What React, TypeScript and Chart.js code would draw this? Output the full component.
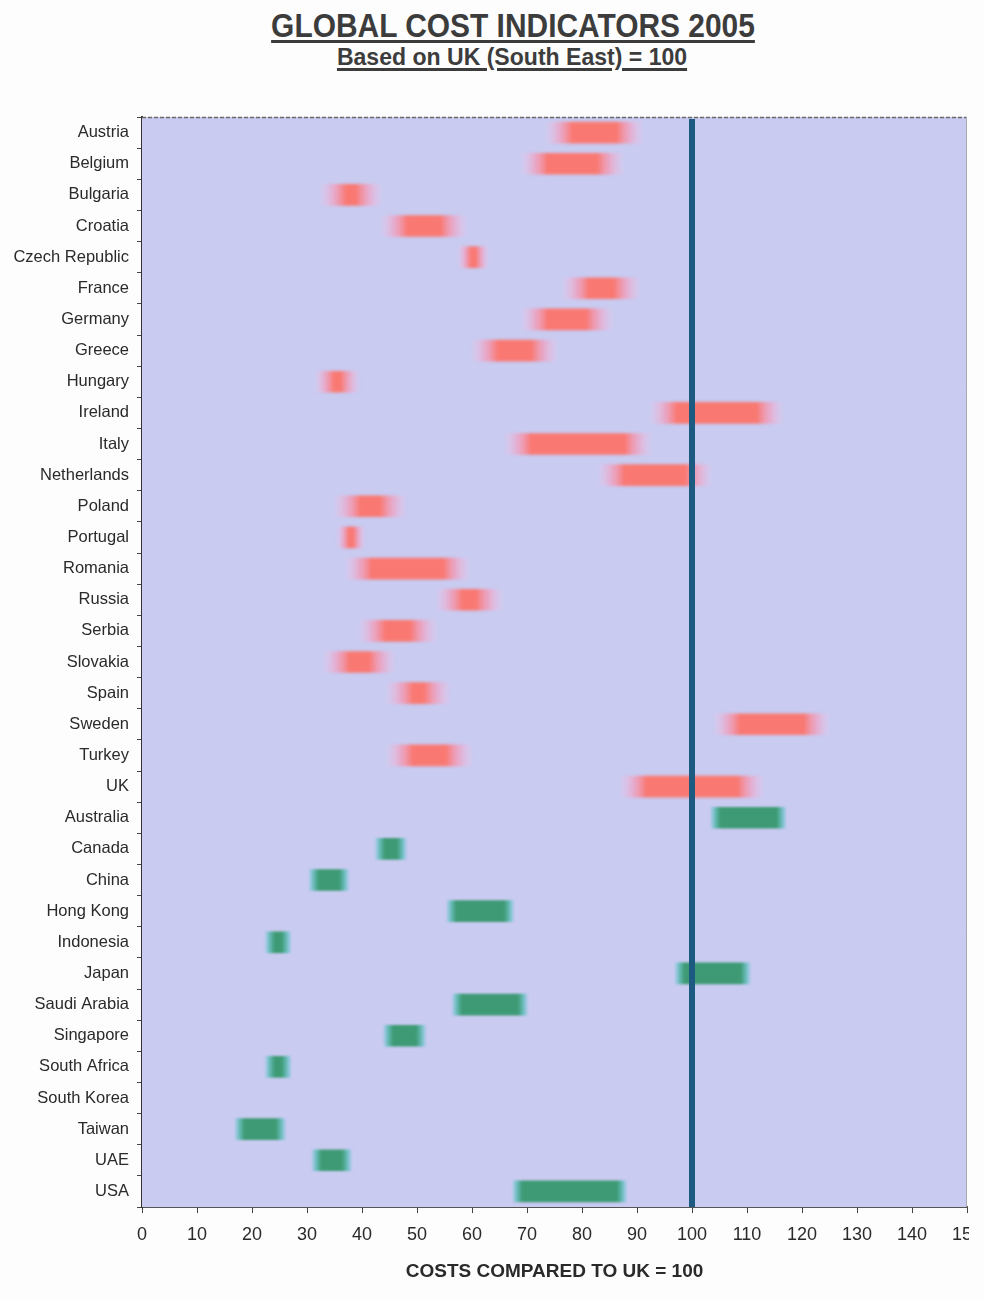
import React, { useEffect, useRef } from 'react';
import { Chart, registerables } from 'chart.js';

Chart.register(...registerables);

const europeCountries = [
  'Austria', 'Belgium', 'Bulgaria', 'Croatia', 'Czech Republic', 'France', 'Germany', 'Greece',
  'Hungary', 'Ireland', 'Italy', 'Netherlands', 'Poland', 'Portugal', 'Romania', 'Russia',
  'Serbia', 'Slovakia', 'Spain', 'Sweden', 'Turkey', 'UK',
];
const otherCountries = [
  'Australia', 'Canada', 'China', 'Hong Kong', 'Indonesia', 'Japan', 'Saudi Arabia',
  'Singapore', 'South Africa', 'South Korea', 'Taiwan', 'UAE', 'USA',
];
const countries = [...europeCountries, ...otherCountries];

// low / high cost index (UK South East = 100)
const lowCost: (number | null)[] = [
  73.5, 69, 32.5, 43.5, 57.5, 76.5, 69, 60,
  31.5, 92.5, 66, 83, 35, 35.5, 37, 53.5,
  39.5, 33, 44.5, 104, 44.5, 87,
  103.5, 42.5, 30.5, 55.5, 22.5, 97, 56.5,
  44, 22.5, null, 17, 31, 67.5,
];
const highCost: (number | null)[] = [
  91, 87.5, 43.5, 59, 63, 90.5, 85.5, 75.5,
  39.5, 116.5, 92.5, 103.5, 48, 40.5, 59.5, 65.5,
  53.5, 46, 56, 125, 60, 113,
  117, 48, 37.5, 67.5, 27, 110.5, 70,
  51.5, 27, null, 26, 38, 88,
];

const xTicks = [0, 10, 20, 30, 40, 50, 60, 70, 80, 90, 100, 110, 120, 130, 140, 150];
const referenceValue = 100;

const TITLE = 'GLOBAL COST INDICATORS 2005';
const SUBTITLE = 'Based on UK (South East) = 100';
const X_TITLE = 'COSTS COMPARED TO UK = 100';

const FONT = '"Liberation Sans", Arial, sans-serif';

function rangeFor(isEurope: boolean) {
  return countries.map((c, i) => {
    const inGroup = isEurope ? europeCountries.includes(c) : otherCountries.includes(c);
    if (!inGroup || lowCost[i] == null || highCost[i] == null) return null;
    return [lowCost[i] as number, highCost[i] as number];
  });
}

function gradientFill(ctx: any, core: string, mid: string, edge: string, fadePx: number) {
  const chart = ctx.chart;
  const raw = ctx.raw;
  const xs = chart.scales?.x;
  if (!raw || !xs || !chart.chartArea) return core;
  const x1 = xs.getPixelForValue(raw[0]);
  const x2 = xs.getPixelForValue(raw[1]);
  const w = Math.max(1, x2 - x1);
  const f = Math.min(0.42, fadePx / w);
  const g = chart.ctx.createLinearGradient(x1, 0, x2, 0);
  g.addColorStop(0, edge);
  g.addColorStop(f * 0.5, mid);
  g.addColorStop(f, core);
  g.addColorStop(1 - f, core);
  g.addColorStop(1 - f * 0.5, mid);
  g.addColorStop(1, edge);
  return g;
}

const bgPlugin = {
  id: 'plotBackground',
  beforeDatasetsDraw(chart: any) {
    const { ctx, chartArea: a } = chart;
    ctx.save();
    ctx.fillStyle = '#c9cbf1';
    ctx.fillRect(a.left, a.top, a.right - a.left, a.bottom - a.top);
    ctx.restore();
  },
};

const blurPlugin = {
  id: 'softBars',
  beforeDatasetDraw(chart: any, args: any) {
    chart.ctx.save();
    chart.ctx.filter = args.index === 0 ? 'blur(1.8px)' : 'blur(1.3px)';
  },
  afterDatasetDraw(chart: any) {
    chart.ctx.restore();
  },
};

const refLinePlugin = {
  id: 'refLine',
  afterDatasetsDraw(chart: any) {
    const { ctx, chartArea: a, scales } = chart;
    const x = scales.x.getPixelForValue(referenceValue);
    ctx.save();
    ctx.strokeStyle = '#1c5a82';
    ctx.lineWidth = 6;
    ctx.beginPath();
    ctx.moveTo(x, a.top + 2);
    ctx.lineTo(x, a.bottom);
    ctx.stroke();
    // top and right frame
    ctx.strokeStyle = '#6a6a6a';
    ctx.lineWidth = 1.5;
    ctx.setLineDash([4, 2]);
    ctx.beginPath();
    ctx.moveTo(a.left, a.top + 0.5);
    ctx.lineTo(a.right, a.top + 0.5);
    ctx.stroke();
    ctx.setLineDash([]);
    ctx.lineWidth = 1;
    ctx.strokeStyle = '#a8a8b0';
    ctx.beginPath();
    ctx.moveTo(a.right - 0.5, a.top);
    ctx.lineTo(a.right - 0.5, a.bottom);
    ctx.stroke();
    ctx.restore();
  },
};

export default function App() {
  const canvasRef = useRef<HTMLCanvasElement | null>(null);

  useEffect(() => {
    if (!canvasRef.current) return;
    const chart = new Chart(canvasRef.current, {
      type: 'bar',
      data: {
        labels: countries,
        datasets: [
          {
            label: 'Europe',
            data: rangeFor(true) as any,
            backgroundColor: (c: any) =>
              gradientFill(c, 'rgba(249,120,114,1)', 'rgba(250,150,180,0.6)', 'rgba(250,195,230,0.12)', 26),
            borderWidth: 0,
            borderSkipped: false,
            barThickness: 21,
            grouped: false,
          },
          {
            label: 'Rest of world',
            data: rangeFor(false) as any,
            backgroundColor: (c: any) =>
              gradientFill(c, 'rgba(62,154,116,1)', 'rgba(72,178,160,0.8)', 'rgba(90,200,205,0.35)', 9),
            borderWidth: 0,
            borderSkipped: false,
            barThickness: 21,
            grouped: false,
          },
        ],
      },
      options: {
        indexAxis: 'y',
        responsive: false,
        animation: false,
        devicePixelRatio: 1,
        layout: { padding: { top: 117, left: 0, right: 2, bottom: 0 } },
        plugins: {
          legend: { display: false },
          tooltip: { enabled: false },
          title: { display: false },
        },
        scales: {
          x: {
            type: 'linear',
            min: 0,
            max: 150,
            afterBuildTicks: (s: any) => {
              s.ticks = xTicks.map((v) => ({ value: v }));
            },
            afterFit: (s: any) => {
              s.height = 92;
              s.paddingLeft = 0;
              s.paddingRight = 0;
            },
            grid: {
              drawOnChartArea: false,
              drawTicks: true,
              tickLength: 6,
              color: '#444',
            },
            border: { display: true, color: '#555', width: 2 },
            ticks: {
              color: '#2a2a2a',
              font: { family: FONT, size: 18 },
              padding: 11,
              maxRotation: 0,
              autoSkip: false,
            },
            title: {
              display: true,
              text: X_TITLE,
              color: '#2a2a2a',
              font: { family: FONT, size: 19, weight: 'bold' },
              padding: { top: 0, bottom: 16 },
            },
          },
          y: {
            type: 'category',
            afterFit: (s: any) => {
              s.width = 142;
            },
            grid: {
              drawOnChartArea: false,
              drawTicks: true,
              tickLength: 5,
              offset: true,
              color: '#444',
            },
            border: { display: true, color: '#333', width: 2 },
            ticks: {
              color: '#2a2a2a',
              font: { family: FONT, size: 16.5 },
              padding: 8,
              autoSkip: false,
            },
          },
        },
      },
      plugins: [bgPlugin, blurPlugin, refLinePlugin],
    } as any);
    return () => chart.destroy();
  }, []);

  const titleBase: React.CSSProperties = {
    position: 'absolute',
    whiteSpace: 'nowrap',
    fontFamily: FONT,
    fontWeight: 'bold',
    color: '#3c3c3c',
    textDecoration: 'underline',
    textDecorationThickness: '3px',
    textUnderlineOffset: '3px',
    lineHeight: 1,
  };

  return (
    <div style={{ position: 'absolute', left: 0, top: 0, width: 984, height: 1299, background: '#fdfdfd' }}>
      <div
        style={{ ...titleBase, top: 8, left: 513, fontSize: 34, transform: 'translateX(-50%) scaleX(0.88)' }}
      >
        {TITLE}
      </div>
      <div
        style={{ ...titleBase, top: 45, left: 512, fontSize: 24, transform: 'translateX(-50%) scaleX(0.96)' }}
      >
        {SUBTITLE}
      </div>
      <canvas
        ref={canvasRef}
        width={969}
        height={1299}
        style={{ position: 'absolute', left: 0, top: 0, width: 969, height: 1299 }}
      />
    </div>
  );
}
